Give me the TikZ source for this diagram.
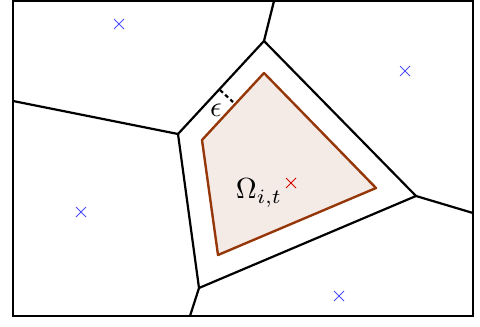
\documentclass[tikz,border=0pt]{standalone}
\usetikzlibrary{positioning}
\definecolor{cellline}{RGB}{150,55,10}
\definecolor{cellfill}{RGB}{244,235,230}
\tikzset{
  edge/.style={black,line width=1.1pt},
  site/.style={blue!70,line width=.5pt},
  mysite/.style={red!85!black,line width=.5pt},
  label/.style={inner sep=0pt,scale=1.45},
}
\newcommand{\sitemark}[3]{\draw[#1] (#2-5,#3-5) -- (#2+5,#3+5) (#2-5,#3+5) -- (#2+5,#3-5);}
\begin{document}
\begin{tikzpicture}[x=.5pt,y=-.5pt]
\useasboundingbox (0,0) rectangle (480,326);
% voronoi cell vertices
\coordinate (v1) at (264,41);
\coordinate (v2) at (416,196);
\coordinate (v3) at (199,288);
\coordinate (v4) at (178,134);
% shrunken cell
\coordinate (w1) at (264,73);
\coordinate (w2) at (376,188);
\coordinate (w3) at (218,255);
\coordinate (w4) at (202,140);
\path[fill=cellfill,draw=cellline,line width=1.2pt,line join=round] (w1) -- (w2) -- (w3) -- (w4) -- cycle;
\draw[edge,line join=round] (v1) -- (v2) -- (v3) -- (v4) -- cycle;
\draw[edge] (v1) -- (274,1);
\draw[edge] (v2) -- (473,213);
\draw[edge] (v3) -- (190,316);
\draw[edge] (v4) -- (13,101);
\draw[black,line width=1.4pt] (13,1) rectangle (473,316);
% epsilon gap
\coordinate (e1) at (220,90);
\coordinate (e2) at (233,102);
\draw[black,line width=1.1pt,dash pattern=on 2pt off 1.5pt] (e1) -- (e2);
\node[label] (eps) at (216,110) {$\epsilon$};
% sites
\sitemark{site}{119}{24}
\sitemark{site}{405}{71}
\sitemark{site}{81}{212}
\sitemark{site}{339}{296}
\sitemark{mysite}{291}{183}
\node[label] (omega) at (259,193) {$\Omega_{i,t}$};
\end{tikzpicture}
\end{document}
